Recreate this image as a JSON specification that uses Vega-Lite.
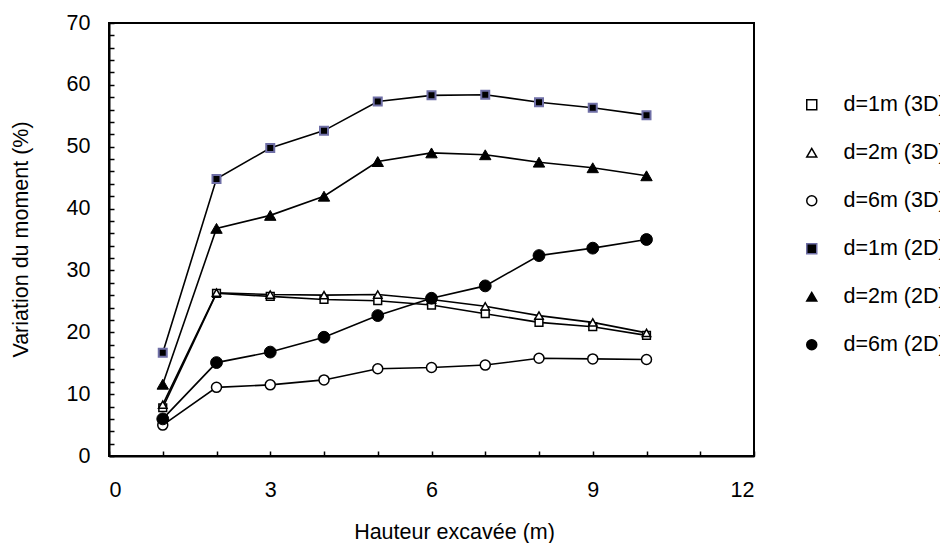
{
  "$schema": "https://vega.github.io/schema/vega-lite/v6.json",
  "width": 645,
  "height": 433,
  "autosize": {"type": "none"},
  "padding": {"left": 109, "top": 23, "right": 186, "bottom": 87},
  "background": "white",
  "data": {"values": [
    {"series": "d=1m (3D)", "h": 1, "v": 7.8}, {"series": "d=1m (3D)", "h": 2, "v": 26.3}, {"series": "d=1m (3D)", "h": 3, "v": 25.8}, {"series": "d=1m (3D)", "h": 4, "v": 25.3}, {"series": "d=1m (3D)", "h": 5, "v": 25.1}, {"series": "d=1m (3D)", "h": 6, "v": 24.4}, {"series": "d=1m (3D)", "h": 7, "v": 23.0}, {"series": "d=1m (3D)", "h": 8, "v": 21.6}, {"series": "d=1m (3D)", "h": 9, "v": 20.9}, {"series": "d=1m (3D)", "h": 10, "v": 19.5},
    {"series": "d=2m (3D)", "h": 1, "v": 8.3}, {"series": "d=2m (3D)", "h": 2, "v": 26.4}, {"series": "d=2m (3D)", "h": 3, "v": 26.1}, {"series": "d=2m (3D)", "h": 4, "v": 26.0}, {"series": "d=2m (3D)", "h": 5, "v": 26.1}, {"series": "d=2m (3D)", "h": 6, "v": 25.3}, {"series": "d=2m (3D)", "h": 7, "v": 24.2}, {"series": "d=2m (3D)", "h": 8, "v": 22.7}, {"series": "d=2m (3D)", "h": 9, "v": 21.6}, {"series": "d=2m (3D)", "h": 10, "v": 19.9},
    {"series": "d=6m (3D)", "h": 1, "v": 5.0}, {"series": "d=6m (3D)", "h": 2, "v": 11.1}, {"series": "d=6m (3D)", "h": 3, "v": 11.5}, {"series": "d=6m (3D)", "h": 4, "v": 12.3}, {"series": "d=6m (3D)", "h": 5, "v": 14.1}, {"series": "d=6m (3D)", "h": 6, "v": 14.3}, {"series": "d=6m (3D)", "h": 7, "v": 14.7}, {"series": "d=6m (3D)", "h": 8, "v": 15.8}, {"series": "d=6m (3D)", "h": 9, "v": 15.7}, {"series": "d=6m (3D)", "h": 10, "v": 15.6},
    {"series": "d=1m (2D)", "h": 1, "v": 16.7}, {"series": "d=1m (2D)", "h": 2, "v": 44.8}, {"series": "d=1m (2D)", "h": 3, "v": 49.8}, {"series": "d=1m (2D)", "h": 4, "v": 52.6}, {"series": "d=1m (2D)", "h": 5, "v": 57.3}, {"series": "d=1m (2D)", "h": 6, "v": 58.3}, {"series": "d=1m (2D)", "h": 7, "v": 58.4}, {"series": "d=1m (2D)", "h": 8, "v": 57.2}, {"series": "d=1m (2D)", "h": 9, "v": 56.3}, {"series": "d=1m (2D)", "h": 10, "v": 55.1},
    {"series": "d=2m (2D)", "h": 1, "v": 11.6}, {"series": "d=2m (2D)", "h": 2, "v": 36.8}, {"series": "d=2m (2D)", "h": 3, "v": 38.9}, {"series": "d=2m (2D)", "h": 4, "v": 42.0}, {"series": "d=2m (2D)", "h": 5, "v": 47.6}, {"series": "d=2m (2D)", "h": 6, "v": 49.0}, {"series": "d=2m (2D)", "h": 7, "v": 48.7}, {"series": "d=2m (2D)", "h": 8, "v": 47.5}, {"series": "d=2m (2D)", "h": 9, "v": 46.6}, {"series": "d=2m (2D)", "h": 10, "v": 45.3},
    {"series": "d=6m (2D)", "h": 1, "v": 6.0}, {"series": "d=6m (2D)", "h": 2, "v": 15.1}, {"series": "d=6m (2D)", "h": 3, "v": 16.8}, {"series": "d=6m (2D)", "h": 4, "v": 19.2}, {"series": "d=6m (2D)", "h": 5, "v": 22.7}, {"series": "d=6m (2D)", "h": 6, "v": 25.5}, {"series": "d=6m (2D)", "h": 7, "v": 27.5}, {"series": "d=6m (2D)", "h": 8, "v": 32.4}, {"series": "d=6m (2D)", "h": 9, "v": 33.6}, {"series": "d=6m (2D)", "h": 10, "v": 35.0}
  ]},
  "encoding": {
    "x": {"field": "h", "type": "quantitative", "scale": {"domain": [0, 12], "nice": false, "zero": false},
      "axis": {"title": "Hauteur excavée (m)", "values": [0,1,2,3,4,5,6,7,8,9,10,11,12],
        "labelExpr": "datum.value % 3 === 0 ? datum.label : ''", "labelPadding": 28,
        "titleX": 345, "titleY": 82, "titleBaseline": "alphabetic", "titleAnchor": "middle", "titleAlign": "center"}},
    "y": {"field": "v", "type": "quantitative", "scale": {"domain": [0, 70], "nice": false},
      "axis": {"title": "Variation du moment (%)", "values": [0,2,4,6,8,10,12,14,16,18,20,22,24,26,28,30,32,34,36,38,40,42,44,46,48,50,52,54,56,58,60,62,64,66,68,70],
        "labelExpr": "datum.value % 10 === 0 ? datum.label : ''", "labelPadding": 24,
        "titleX": -82, "titleY": 216, "titleAngle": 270, "titleBaseline": "alphabetic", "titleAlign": "center"}}
  },
  "layer": [
    {
      "mark": {"type": "line", "color": "black", "strokeWidth": 1.6},
      "encoding": {"detail": {"field": "series", "type": "nominal"}}
    },
    {
      "mark": {"type": "point", "opacity": 1},
      "encoding": {
        "shape": {"field": "series", "type": "nominal",
          "scale": {"domain": ["d=1m (3D)", "d=2m (3D)", "d=6m (3D)", "d=1m (2D)", "d=2m (2D)", "d=6m (2D)"],
            "range": ["square", "triangle-up", "circle", "square", "triangle-up", "circle"]},
          "legend": {"orient": "none", "legendX": 692, "legendY": 71, "title": null, "padding": 0,
            "symbolSize": 100, "rowPadding": 25, "labelOffset": 21,
            "labelFont": "Liberation Sans", "labelFontSize": 21.5, "labelColor": "black",
            "symbolStrokeWidth": 1.5}},
        "fill": {"field": "series", "type": "nominal",
          "scale": {"domain": ["d=1m (3D)", "d=2m (3D)", "d=6m (3D)", "d=1m (2D)", "d=2m (2D)", "d=6m (2D)"],
            "range": ["white", "white", "white", "black", "black", "black"]}},
        "stroke": {"field": "series", "type": "nominal",
          "scale": {"domain": ["d=1m (3D)", "d=2m (3D)", "d=6m (3D)", "d=1m (2D)", "d=2m (2D)", "d=6m (2D)"],
            "range": ["black", "black", "black", "#6f6fa6", "black", "black"]}},
        "size": {"condition": [
            {"test": "datum.series === 'd=2m (3D)'", "value": 70},
            {"test": "datum.series === 'd=6m (3D)'", "value": 100},
            {"test": "datum.series === 'd=1m (2D)'", "value": 64},
            {"test": "datum.series === 'd=2m (2D)'", "value": 130},
            {"test": "datum.series === 'd=6m (2D)'", "value": 140}
          ], "value": 60},
        "strokeWidth": {"condition": [
            {"test": "datum.series === 'd=1m (2D)'", "value": 2},
            {"test": "datum.series === 'd=2m (2D)' || datum.series === 'd=6m (2D)'", "value": 1}
          ], "value": 1.5}
      }
    }
  ],
  "config": {
    "view": {"stroke": "black", "strokeWidth": 2},
    "axis": {"grid": false, "domainColor": "black", "domainWidth": 2, "tickColor": "black", "tickWidth": 1.5, "tickSize": -5,
      "labelFont": "Liberation Sans", "labelFontSize": 21.5, "labelColor": "black",
      "titleFont": "Liberation Sans", "titleFontSize": 21.5, "titleFontWeight": "normal", "titleColor": "black"}
  }
}
